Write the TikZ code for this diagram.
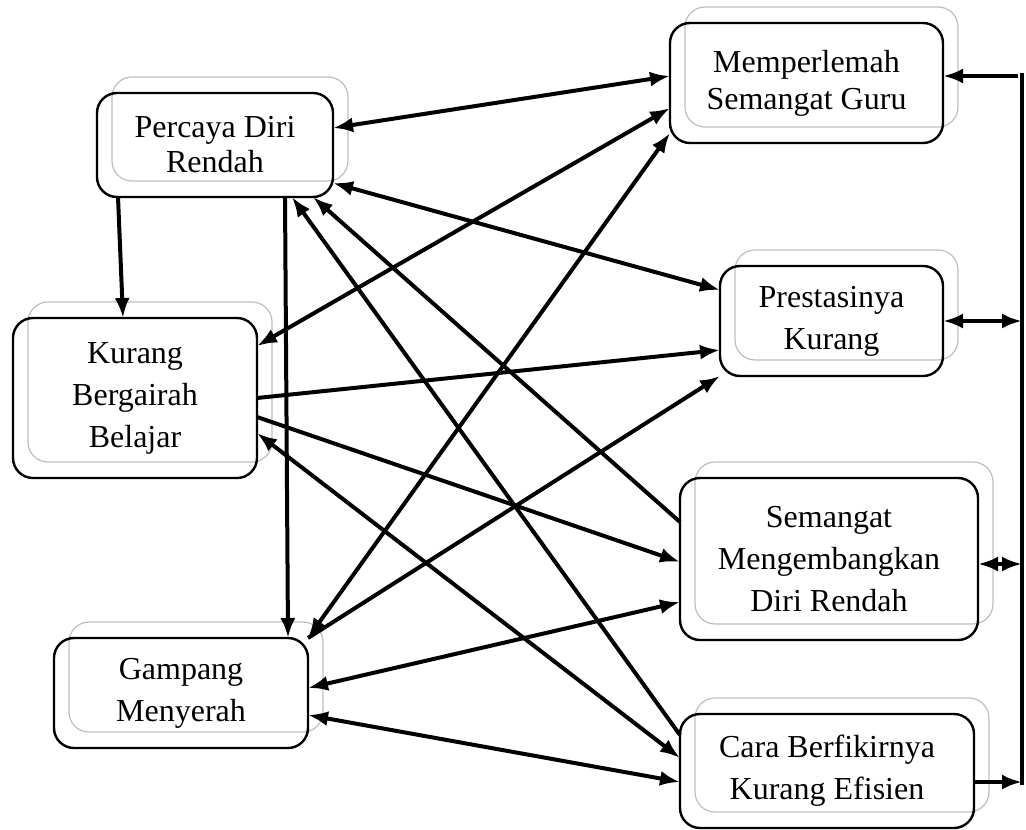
\documentclass[tikz,border=0pt]{standalone}
\usepackage{fontspec}
\setmainfont{Liberation Serif}
\usetikzlibrary{arrows.meta,shadows}
\definecolor{ghostgray}{RGB}{190,190,190}
\tikzset{
  box/.style={draw, line width=1.2pt, rounded corners=10pt, align=center,
    outer sep=0pt, inner sep=2pt, font=\fontsize{16}{18.5}\selectfont,
    copy shadow={shadow xshift=7.5pt, shadow yshift=8pt, draw=ghostgray,
      fill=none, line width=0.6pt}},
  loose/.style={box, font=\fontsize{16}{21}\selectfont},
  link/.style={line width=2pt, -{Latex[length=10pt,width=7.5pt]}},
  both/.style={link, {Latex[length=10pt,width=7.5pt]}-{Latex[length=10pt,width=7.5pt]}}
}
\begin{document}
\begin{tikzpicture}[x=0.5pt, y=-0.5pt]
    \useasboundingbox (0,0) rectangle (1026,829);

    % Left column
    \node[box, font=\fontsize{16}{17.5}\selectfont, minimum width=118pt, minimum height=52pt] (P) at (215,145) {Percaya Diri\\Rendah};
    \node[loose, minimum width=122pt, minimum height=80pt] (K) at (135,398) {Kurang\\Bergairah\\Belajar};
    \node[loose, minimum width=127pt, minimum height=55pt] (G) at (181,693) {Gampang\\Menyerah};

    % Right column
    \node[box, minimum width=136.5pt, minimum height=60pt] (M) at (806.5,83) {Memperlemah\\Semangat Guru};
    \node[loose, minimum width=111.5pt, minimum height=55pt] (Pr) at (831.5,321) {Prestasinya\\Kurang};
    \node[loose, minimum width=149pt, minimum height=81pt] (S) at (829,559) {Semangat\\Mengembangkan\\Diri Rendah};
    \node[loose, minimum width=147pt, minimum height=57pt] (C) at (827,771) {Cara Berfikirnya\\Kurang Efisien};

    % From Percaya Diri Rendah
    \draw[both] ([shift={(0,-17)}]P.east) -- ([shift={(0,-7)}]M.west);
    \draw[both] ([shift={(0,38)}]P.east) -- ([shift={(0,-31)}]Pr.west);
    \draw[link] ([shift={(21,0)}]P.south west) -- ([shift={(110,0)}]K.north west);
    \draw[link] ([shift={(-48,0)}]P.south east) -- ([shift={(-20,0)}]G.north east);
    \draw[link] ([shift={(0,-37)}]S.west) -- ([shift={(-20,0)}]P.south east);
    \draw[link] ([shift={(0,-36)}]C.west) -- ([shift={(-41,0)}]P.south east);

    % From Kurang Bergairah Belajar
    \draw[both] ([shift={(0,-52)}]K.east) -- ([shift={(0,25)}]M.west);
    \draw[link] (K.east) -- ([shift={(0,29)}]Pr.west);
    \draw[link] ([shift={(0,19)}]K.east) -- ([shift={(0,3)}]S.west);
    \draw[both] ([shift={(0,35)}]K.east) -- ([shift={(0,-13)}]C.west);

    % From Gampang Menyerah
    \draw[both] (G.north east) -- ([shift={(0,50)}]M.west);
    \draw[link] (G.north east) -- (Pr.south west);
    \draw[both] ([shift={(0,-5)}]G.east) -- ([shift={(0,43)}]S.west);
    \draw[both] ([shift={(0,22)}]G.east) -- ([shift={(0,11)}]C.west);

    % Feedback line on the right
    \coordinate (bustop) at (1022,73);
    \coordinate (busbot) at (1022,785);
    \draw[line width=2pt] (bustop) -- (busbot);
    \draw[link] ([shift={(-4,3)}]bustop) -- ([shift={(0,-7)}]M.east);
    \draw[both] (Pr.east) -- (Pr.east -| bustop);
    \draw[both] ([shift={(0,5)}]S.east) -- ([shift={(0,5)}]S.east -| bustop);
    \draw[link] ([shift={(0,11)}]C.east) -- ([shift={(0,11)}]C.east -| bustop);
\end{tikzpicture}
\end{document}
